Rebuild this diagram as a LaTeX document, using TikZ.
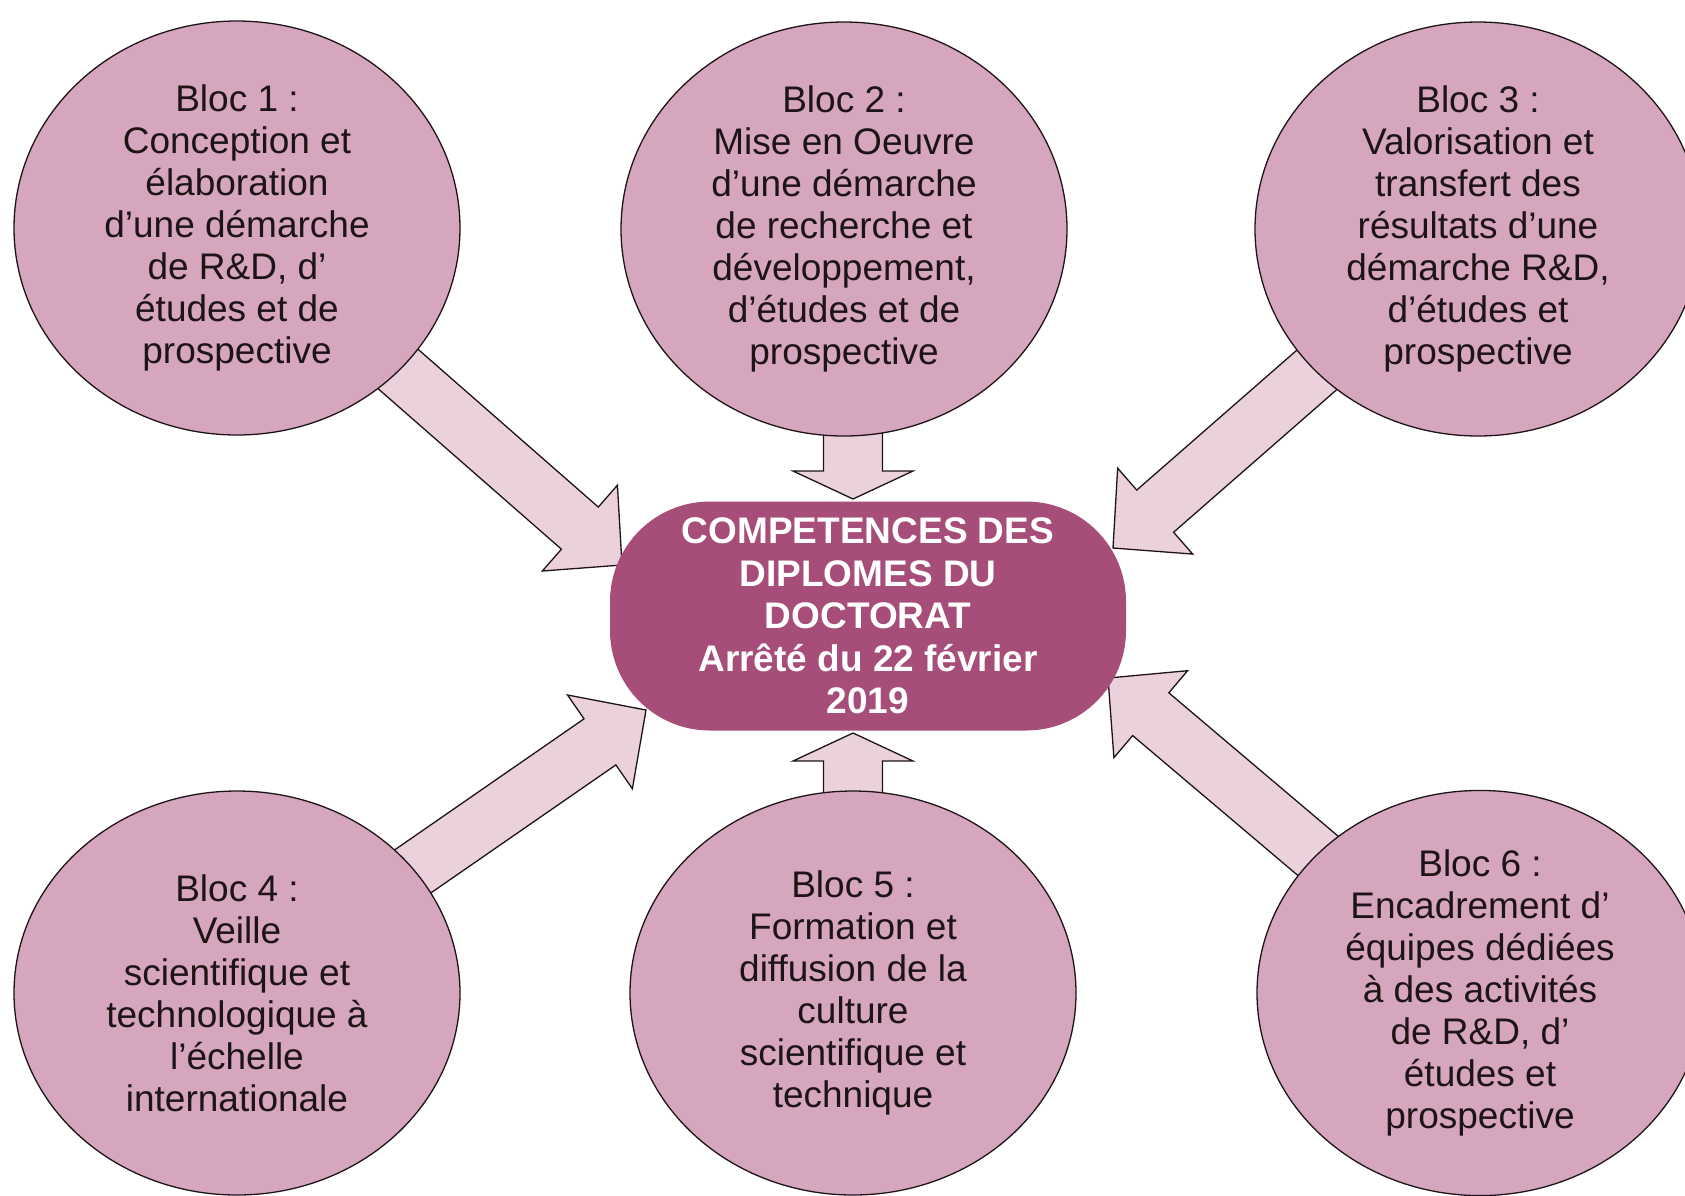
\documentclass[tikz,border=0pt]{standalone}
\usepackage{fontspec}
\setmainfont{Liberation Sans}
\usetikzlibrary{calc,shapes.geometric,backgrounds}
\definecolor{blocfill}{HTML}{D5A6BD}
\definecolor{arrfill}{HTML}{EAD1DC}
\definecolor{corefill}{HTML}{A64D79}
\definecolor{inkc}{HTML}{1E1418}
\newcommand\blockarrow[5]{%
  \path ($(#2)!#3!(#1)$) coordinate (ba-c);
  \draw[arrowbox] ($(#1)!#5!90:(#2)$) -- ($(ba-c)!#5!90:(#2)$) -- ($(ba-c)!#4!90:(#2)$)
    -- (#2) -- ($(ba-c)!#4!-90:(#2)$) -- ($(ba-c)!#5!-90:(#2)$) -- ($(#1)!#5!-90:(#2)$) -- cycle;}
\tikzset{
  bloc/.style={ellipse, draw=inkc, line width=1.3pt, fill=blocfill, minimum width=446pt,
    minimum height=414pt, inner sep=0pt, align=center, text=inkc,
    font=\fontsize{37}{42}\selectfont},
  blocb/.style={bloc, minimum height=404pt},
  core/.style={rectangle, rounded corners=100pt, fill=corefill, minimum width=516pt,
    minimum height=229pt, inner sep=0pt, align=center, text=white,
    font=\fontsize{37}{42.5}\selectfont\bfseries},
  arrowbox/.style={draw=inkc, line width=1.3pt, fill=arrfill, line join=miter}
}
\begin{document}
\begin{tikzpicture}[x=1pt,y=-1pt]
\useasboundingbox (0,0) rectangle (1685,1195);
\node[core] (c) at (868,616) {COMPETENCES DES\\DIPLOMES DU\\DOCTORAT\\Arrêté du 22 février\\2019};
\node[bloc] (b1) at (237,228) {Bloc 1 :\\Conception et\\élaboration\\d’une démarche\\de R\&D, d’\\études et de\\prospective};
\node[bloc] (b2) at (844,229) {Bloc 2 :\\Mise en Oeuvre\\d’une démarche\\de recherche et\\développement,\\d’études et de\\prospective};
\node[bloc] (b3) at (1478,229) {Bloc 3 :\\Valorisation et\\transfert des\\résultats d’une\\démarche R\&D,\\d’études et\\prospective};
\node[blocb] (b4) at (237,993) {Bloc 4 :\\Veille\\scientifique et\\technologique à\\l’échelle\\internationale};
\node[blocb] (b5) at (853,993) {Bloc 5 :\\Formation et\\diffusion de la\\culture\\scientifique et\\technique};
\node[blocb] (b6) at (1480,993) {Bloc 6 :\\Encadrement d’\\équipes dédiées\\à des activités\\de R\&D, d’\\études et\\prospective};
\coordinate (t1) at (622,565);
\coordinate (t2) at (853,499);
\coordinate (t3) at (1113,548);
\coordinate (t4) at (646,710);
\coordinate (t5) at (853,733);
\coordinate (t6) at (1108,678);
\coordinate (s2) at (853,300);
\coordinate (s5) at (853,900);
\begin{scope}[on background layer]
\blockarrow{b1.center}{t1}{56pt}{57pt}{28pt}
\blockarrow{b3.center}{t3}{56pt}{57pt}{28pt}
\blockarrow{b4.center}{t4}{56pt}{57pt}{28pt}
\blockarrow{b6.center}{t6}{56pt}{57pt}{28pt}
\blockarrow{s2}{t2}{28pt}{60pt}{29.5pt}
\blockarrow{s5}{t5}{28pt}{60pt}{29.5pt}
\end{scope}
\end{tikzpicture}
\end{document}
